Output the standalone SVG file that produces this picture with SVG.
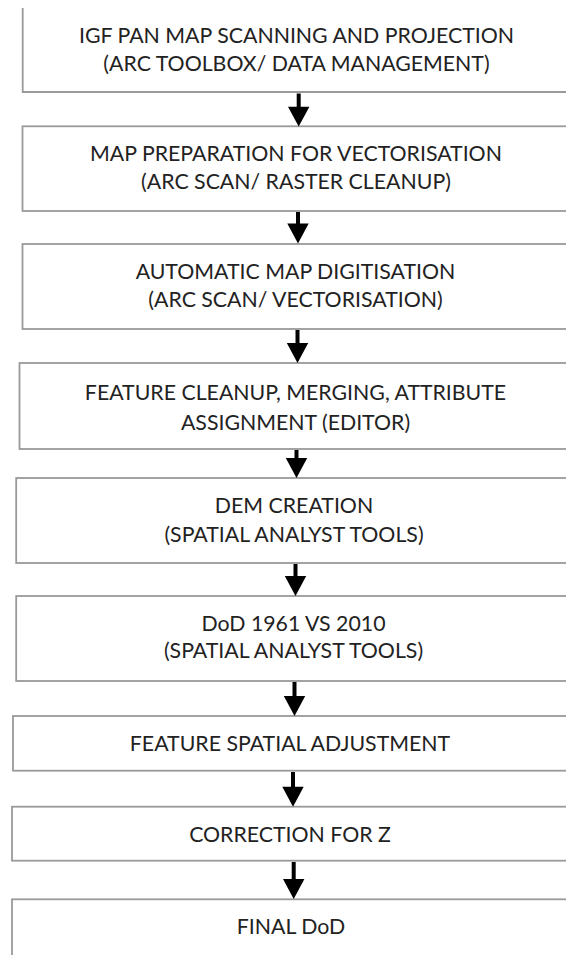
<svg xmlns="http://www.w3.org/2000/svg" width="566" height="955" viewBox="0 0 566 955">
<style>
.box{fill:#ffffff;stroke:#9a9a9a;stroke-width:1.8}
.t{font-family:Lato,"Open Sans","Liberation Sans",sans-serif;font-size:21.3px;fill:#222222;text-anchor:middle}
.c{stroke:#000;stroke-width:4;fill:none}
.h{fill:#000}
</style>
<rect width="566" height="955" fill="#ffffff"/>
<g id="n1">
<path class="box" d="M22.7 8 V92 H580" fill="none"/>
<text class="t" x="296.5" y="43">IGF PAN MAP SCANNING AND PROJECTION</text>
<text class="t" x="296.5" y="70.5">(ARC TOOLBOX/ DATA MANAGEMENT)</text>
</g>
<g id="n2">
<rect class="box" x="22.5" y="126.3" width="560" height="84.7"/>
<text class="t" x="296" y="161">MAP PREPARATION FOR VECTORISATION</text>
<text class="t" x="296" y="189">(ARC SCAN/ RASTER CLEANUP)</text>
</g>
<g id="n3">
<rect class="box" x="22.5" y="244" width="560" height="85"/>
<text class="t" x="295.5" y="279">AUTOMATIC MAP DIGITISATION</text>
<text class="t" x="295.5" y="307">(ARC SCAN/ VECTORISATION)</text>
</g>
<g id="n4">
<rect class="box" x="19.5" y="363" width="560" height="86"/>
<text class="t" x="295.5" y="400">FEATURE CLEANUP, MERGING, ATTRIBUTE</text>
<text class="t" x="295.5" y="430">ASSIGNMENT (EDITOR)</text>
</g>
<g id="n5">
<rect class="box" x="16.2" y="478" width="560" height="85"/>
<text class="t" x="294" y="513">DEM CREATION</text>
<text class="t" x="294" y="542">(SPATIAL ANALYST TOOLS)</text>
</g>
<g id="n6">
<rect class="box" x="16.2" y="596" width="560" height="85"/>
<text class="t" x="293.5" y="630.5">DoD 1961 VS 2010</text>
<text class="t" x="293.5" y="658">(SPATIAL ANALYST TOOLS)</text>
</g>
<g id="n7">
<rect class="box" x="13" y="716" width="560" height="54.7"/>
<text class="t" x="290" y="750.5">FEATURE SPATIAL ADJUSTMENT</text>
</g>
<g id="n8">
<rect class="box" x="12" y="806.7" width="560" height="54"/>
<text class="t" x="290" y="841.7">CORRECTION FOR Z</text>
</g>
<g id="n9">
<rect class="box" x="12" y="899.3" width="560" height="80"/>
<text class="t" x="291" y="934">FINAL DoD</text>
</g>
<g id="connectors">
<line class="c" x1="298.7" y1="93.5" x2="298.7" y2="108"/><polygon class="h" points="288,106.7 309.4,106.7 298.7,126.5"/>
<line class="c" x1="298" y1="212" x2="298" y2="225"/><polygon class="h" points="287.3,223.5 308.7,223.5 298,243.5"/>
<line class="c" x1="297.5" y1="330" x2="297.5" y2="345"/><polygon class="h" points="286.8,343 308.2,343 297.5,363"/>
<line class="c" x1="296.5" y1="450" x2="296.5" y2="460"/><polygon class="h" points="285.8,458 307.2,458 296.5,478"/>
<line class="c" x1="295.5" y1="564" x2="295.5" y2="578"/><polygon class="h" points="284.8,576 306.2,576 295.5,596"/>
<line class="c" x1="294.5" y1="682" x2="294.5" y2="698"/><polygon class="h" points="283.8,696 305.2,696 294.5,716"/>
<line class="c" x1="293" y1="772" x2="293" y2="789"/><polygon class="h" points="282.3,786.7 303.7,786.7 293,806.7"/>
<line class="c" x1="293.7" y1="862" x2="293.7" y2="881"/><polygon class="h" points="283,879 304.4,879 293.7,899"/>
</g>
</svg>
